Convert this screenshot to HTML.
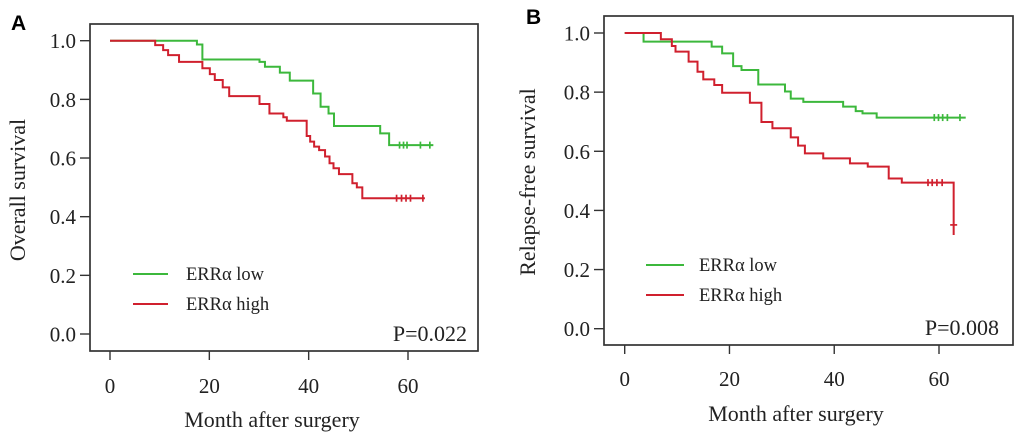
<!DOCTYPE html>
<html><head><meta charset="utf-8"><style>
html,body{margin:0;padding:0;background:#fff;}
svg{display:block;}
text{font-family:"Liberation Serif",serif;fill:#222;}
</style></head><body>
<svg id="fig" width="1020" height="441" viewBox="0 0 1020 441"></svg>
<script>
// Panel A: Overall survival
const aLowT=[0,17.5,18.6,30.1,31.2,34.2,36.2,40.9,42.4,44,45.1,54.4,56.2,65.1];
const aLowS=[1,0.987,0.936,0.928,0.911,0.891,0.864,0.82,0.775,0.752,0.709,0.684,0.644,0.644];
const aLowC=[58.3,59.1,59.8,62.5,64.4];
const aHighT=[0,9.1,10.7,11.7,13.9,18.6,20.1,21.1,22.7,24,30.1,32.1,34.9,35.6,39.6,40.3,41.1,42.1,43.3,44.2,45,46.1,48.8,49.7,50.8,63.4];
const aHighS=[1,0.985,0.968,0.951,0.928,0.906,0.886,0.866,0.841,0.811,0.784,0.752,0.739,0.727,0.675,0.656,0.639,0.627,0.605,0.582,0.565,0.545,0.514,0.5,0.463,0.463];
const aHighC=[57.7,58.7,59.6,60.5,63.0];
// Panel B: Relapse-free survival
const bLowT=[0,3.6,16.6,18.6,20.7,22.3,25.5,30.6,31.7,34.1,41.7,44.1,45.4,48.1,65.1];
const bLowS=[1,0.971,0.954,0.931,0.888,0.875,0.826,0.802,0.778,0.767,0.751,0.736,0.728,0.714,0.714];
const bLowC=[59.1,59.9,60.7,61.6,64.0];
const bHighT=[0,6.9,9,9.7,12.2,13.9,15,17.1,18.6,23.9,26.1,28.2,31.7,33.1,34.4,37.9,43,46.4,50.4,52.9,62.8];
const bHighS=[1,0.979,0.956,0.937,0.903,0.869,0.843,0.824,0.798,0.764,0.699,0.678,0.647,0.619,0.593,0.576,0.559,0.548,0.508,0.494,0.317];
const bHighC=[57.9,58.7,59.6,60.6];
const bHighEndC=[{t:62.8,s:0.351}];
const xTicks=[0,20,40,60];
const yTicks=[0,0.2,0.4,0.6,0.8,1.0];
const yTickLabels=["0.0","0.2","0.4","0.6","0.8","1.0"];

const NS="http://www.w3.org/2000/svg";
const svg=document.getElementById('fig');
function mk(tag,attrs,parent){const e=document.createElementNS(NS,tag);for(const k in attrs)e.setAttribute(k,attrs[k]);(parent||svg).appendChild(e);return e;}

function panel(cfg){
  const g=mk('g',{});
  
  
  const xs=t=>cfg.x0+t*(cfg.x60-cfg.x0)/60;
  const ys=s=>cfg.y0+s*(cfg.y1-cfg.y0);
  const box=mk('rect',{x:cfg.bx,y:cfg.by,width:cfg.bw,height:cfg.bh,fill:'none',stroke:'#333','stroke-width':1.7},g);
  
  
  const lt=mk('text',{x:cfg.lx,y:cfg.ly,'font-size':21,'font-weight':'bold',style:'font-family:"Liberation Sans",sans-serif;fill:#000'},g);
  lt.textContent=cfg.letter;
  
  
  xTicks.forEach(t=>{
    const x=xs(t);
    const tk=mk('line',{x1:x,x2:x,y1:cfg.by+cfg.bh,y2:cfg.by+cfg.bh+9,stroke:'#333','stroke-width':1.4},g);
    
    
    const tx=mk('text',{x:x,y:cfg.xly,'font-size':21,'text-anchor':'middle'},g);
    tx.textContent=String(t);
    
    
  });
  yTicks.forEach((v,i)=>{
    const y=ys(v);
    const tk=mk('line',{x1:cfg.bx-10,x2:cfg.bx,y1:y,y2:y,stroke:'#333','stroke-width':1.4},g);
    
    
    const tx=mk('text',{x:cfg.bx-14,y:y+7.5,'font-size':21,'text-anchor':'end'},g);
    tx.textContent=yTickLabels[i];
    
    
  });
  const xt=mk('text',{x:cfg.xtx,y:cfg.xty,'font-size':22,'text-anchor':'middle'},g);
  xt.textContent='Month after surgery';
  
  
  const yt=mk('text',{x:0,y:0,'font-size':22,'text-anchor':'middle',transform:`translate(${cfg.ytx},${cfg.yty}) rotate(-90)`},g);
  yt.textContent=cfg.ytitle;
  
  
  cfg.series.forEach(se=>{
    let d=`M${xs(se.T[0])},${ys(se.S[0])}`;
    for(let i=1;i<se.T.length;i++){d+=` H${xs(se.T[i])} V${ys(se.S[i])}`;}
    const p=mk('path',{d:d,fill:'none',stroke:se.color,'stroke-width':2},g);
    
    
    const last=se.S[se.S.length-1];
    se.C.forEach(c=>{
      const x=xs(c),y=ys(se.cS!==undefined?se.cS:last);
      const m=mk('line',{x1:x,x2:x,y1:y-3.5,y2:y+3.5,stroke:se.color,'stroke-width':1.7},g);
      
      
    });
    (se.extra||[]).forEach(c=>{
      const x=xs(c.t),y=ys(c.s);
      const m=mk('line',{x1:x-3.5,x2:x+3.5,y1:y,y2:y,stroke:se.color,'stroke-width':1.7},g);
      
      
    });
  });
  cfg.series.forEach((se,i)=>{
    const y=cfg.legY[i];
    const l=mk('line',{x1:cfg.legX1,x2:cfg.legX2,y1:y,y2:y,stroke:se.color,'stroke-width':2},g);
    
    
    const t=mk('text',{x:cfg.legTX,y:y+6,'font-size':18.5},g);
    t.textContent=se.label;
    
    
  });
  const pv=mk('text',{x:cfg.px,y:cfg.py,'font-size':22,'text-anchor':'end'},g);
  pv.textContent=cfg.pval;
  
  
}

const GREEN='#3cb83c',RED='#d0202e';
panel({name:'panel-a',letter:'A',lx:11,ly:30,bx:90,by:24,bw:388,bh:327,x0:110,x60:408,y0:334,y1:40.7,
  xly:393,xtx:272,xty:427,ytx:25,yty:190,ytitle:'Overall survival',
  legX1:133,legX2:168,legTX:186,legY:[274,304],px:467,py:341,pval:'P=0.022',
  series:[{name:'errα-low',label:'ERRα low',color:GREEN,T:aLowT,S:aLowS,C:aLowC},
          {name:'errα-high',label:'ERRα high',color:RED,T:aHighT,S:aHighS,C:aHighC}]});
panel({name:'panel-b',letter:'B',lx:526,ly:24,bx:604,by:16,bw:409,bh:329,x0:624.7,x60:939,y0:328.7,y1:33,
  xly:386,xtx:796,xty:421,ytx:535,yty:182,ytitle:'Relapse-free survival',
  legX1:646,legX2:684,legTX:699,legY:[265,295],px:999,py:335,pval:'P=0.008',
  series:[{name:'errα-low',label:'ERRα low',color:GREEN,T:bLowT,S:bLowS,C:bLowC},
          {name:'errα-high',label:'ERRα high',color:RED,T:bHighT,S:bHighS,C:bHighC,cS:0.494,extra:bHighEndC}]});
</script>
</body></html>
